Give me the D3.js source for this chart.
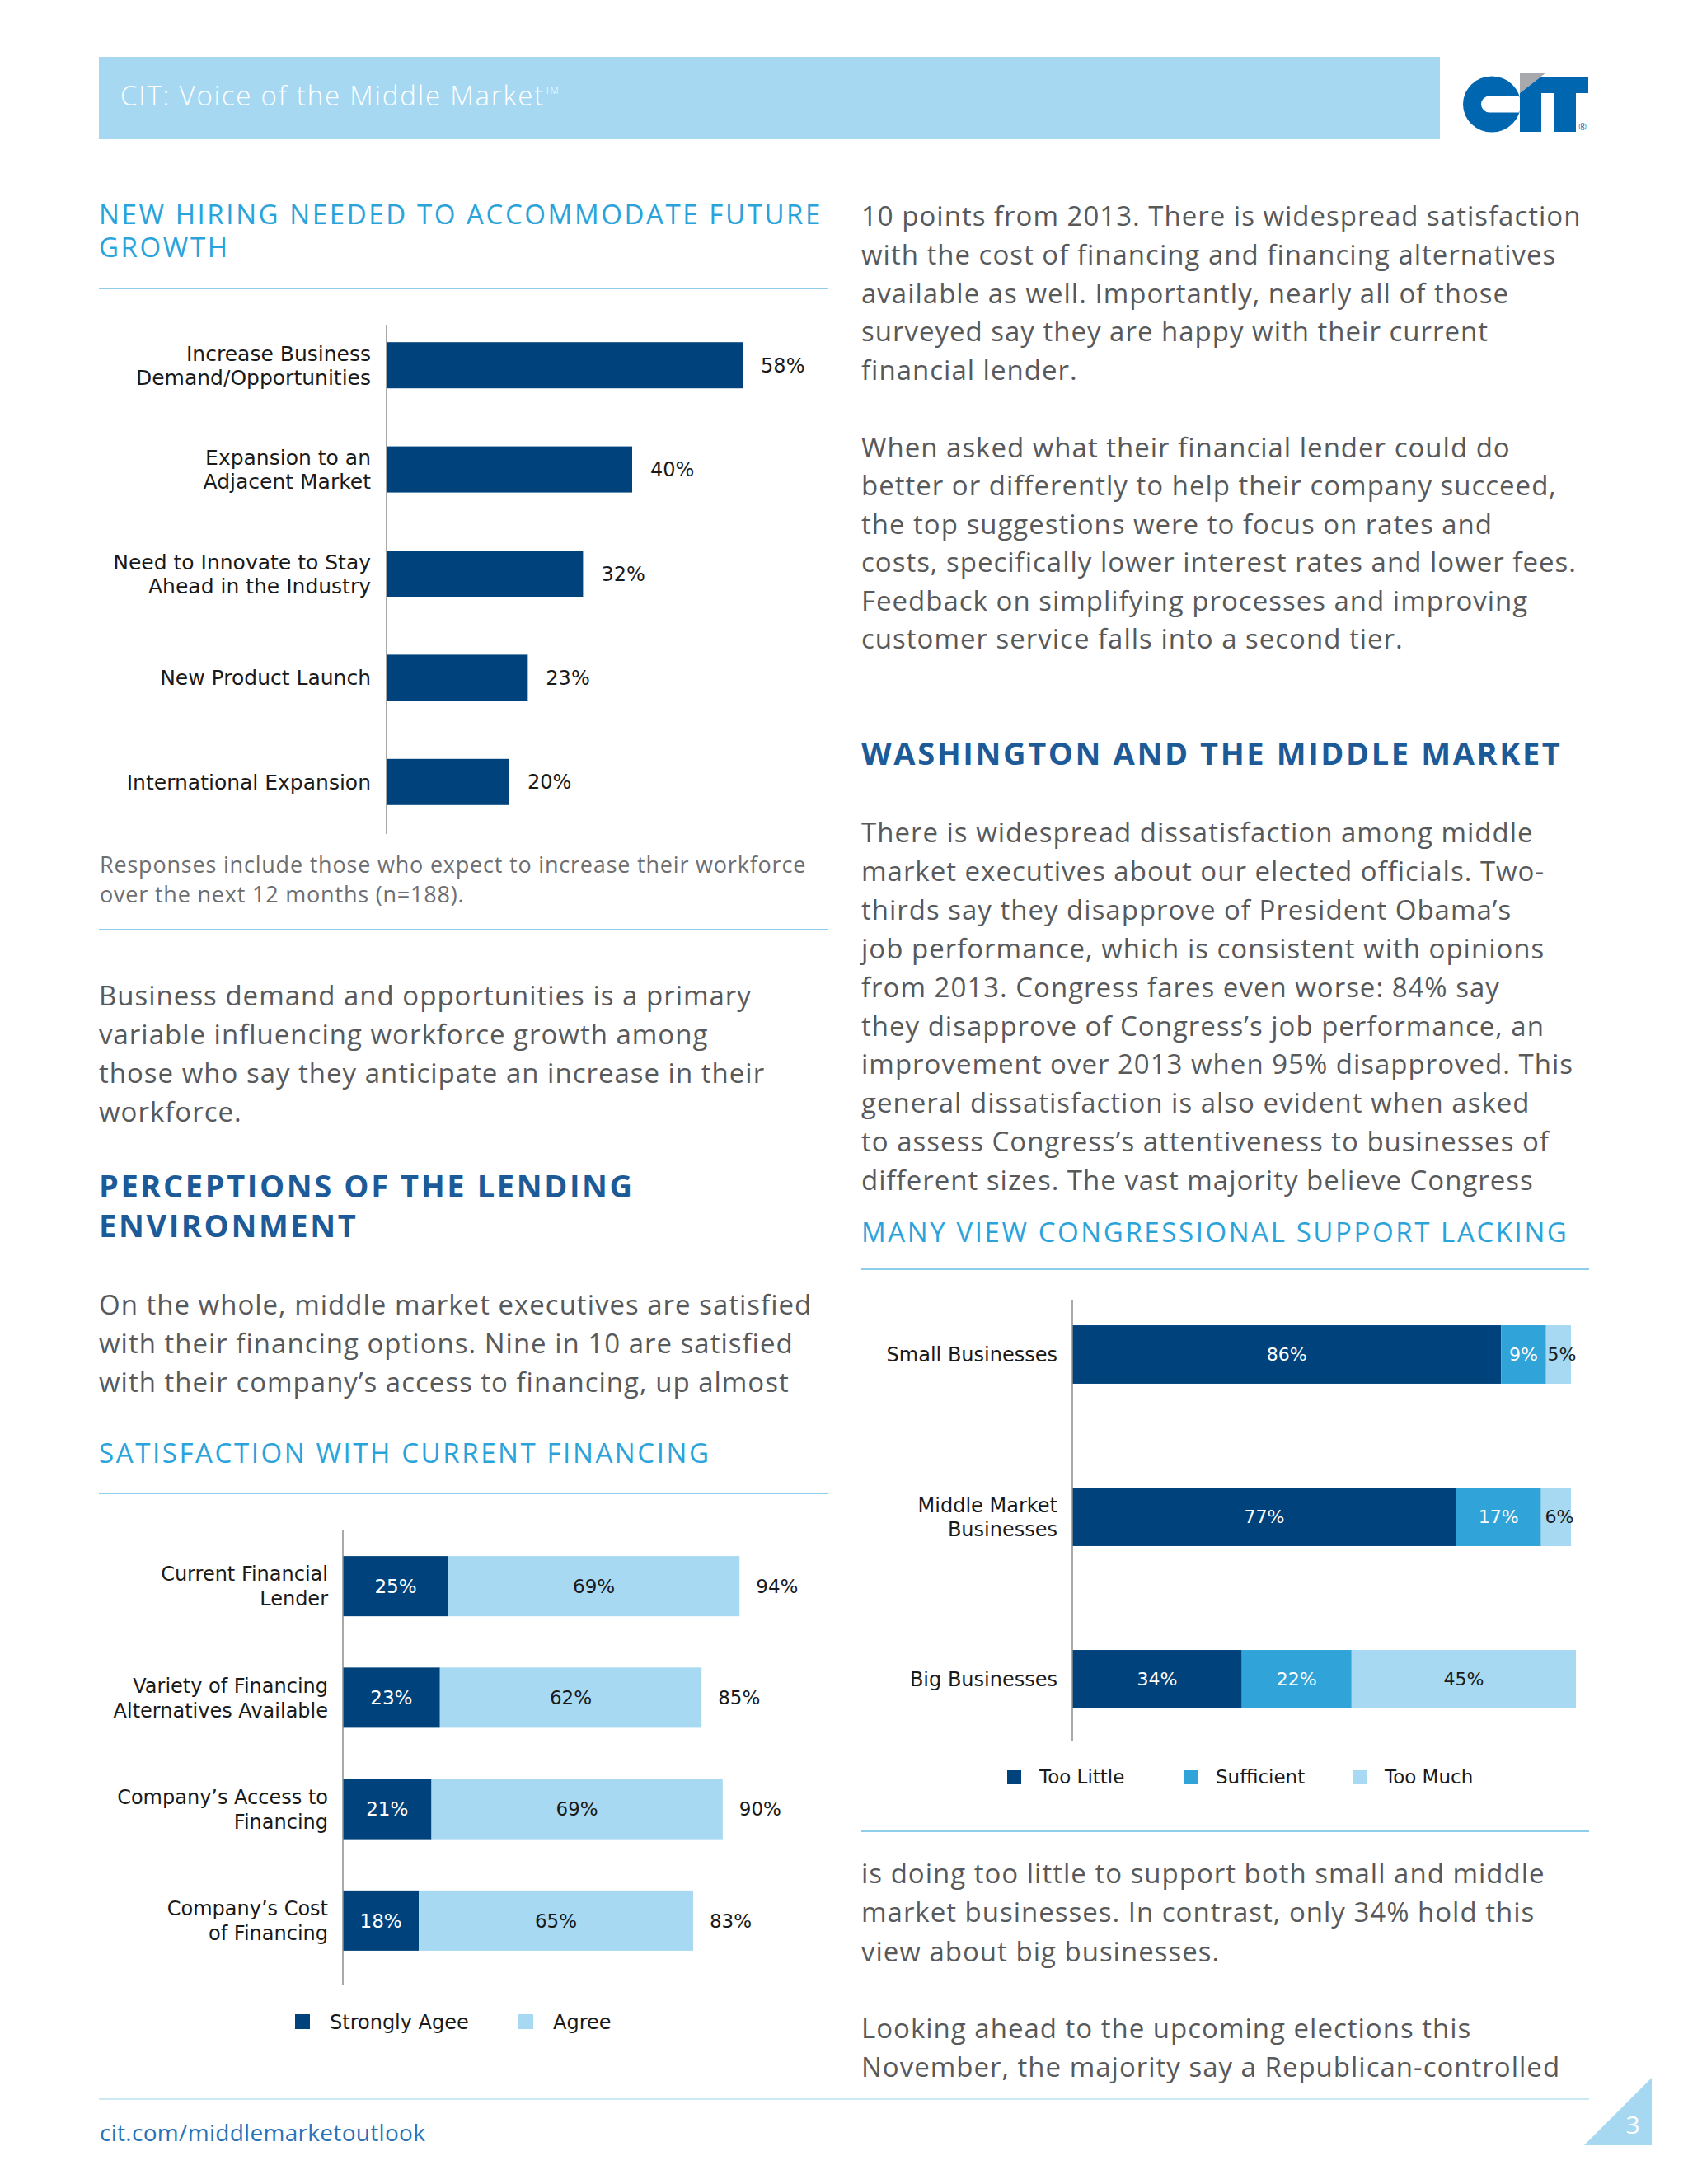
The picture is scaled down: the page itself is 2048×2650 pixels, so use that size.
<!DOCTYPE html>
<html>
<head>
<meta charset="utf-8">
<script src="https://cdn.jsdelivr.net/npm/d3@7/dist/d3.min.js"></script>
<style>
  html, body { margin: 0; padding: 0; background: #ffffff; }
  svg { display: block; }
  .body { font-family: 'Open Sans', sans-serif; font-size: 33px; letter-spacing: 1px; fill: #58595b; }
  .tlight { font-family: 'Open Sans', sans-serif; font-size: 33px; letter-spacing: 2.6px; fill: #2aa3db; }
  .heading { font-family: 'Open Sans', sans-serif; font-weight: 700; font-size: 38px; letter-spacing: 2.6px; fill: #1d5b98; }
  .note { font-family: 'Open Sans', sans-serif; font-size: 27px; letter-spacing: 0.8px; fill: #6d6e71; }
  .lbl { font-family: 'DejaVu Sans', Verdana, sans-serif; fill: #1a1a1a; }
</style>
</head>
<body>
<script>
// ---------------- DATA ----------------
const hiringCategories = [
  ["Increase Business", "Demand/Opportunities"],
  ["Expansion to an", "Adjacent Market"],
  ["Need to Innovate to Stay", "Ahead in the Industry"],
  ["New Product Launch"],
  ["International Expansion"]
];
const hiringValues = [58, 40, 32, 23, 20];

const satCategories = [
  ["Current Financial", "Lender"],
  ["Variety of Financing", "Alternatives Available"],
  ["Company\u2019s Access to", "Financing"],
  ["Company\u2019s Cost", "of Financing"]
];
const satSeries = ["Strongly Agee", "Agree"];
const stronglyAgree = [25, 23, 21, 18];
const agree = [69, 62, 69, 65];
const satTotals = [94, 85, 90, 83];

const congressCategories = [
  ["Small Businesses"],
  ["Middle Market", "Businesses"],
  ["Big Businesses"]
];
const congressSeries = ["Too Little", "Sufficient", "Too Much"];
const tooLittle = [86, 77, 34];
const sufficient = [9, 17, 22];
const tooMuch = [5, 6, 45];

// ---------------- TEXT ----------------
const headerTitle = "CIT: Voice of the Middle Market";
const title1 = ["NEW HIRING NEEDED TO ACCOMMODATE FUTURE", "GROWTH"];
const note1 = ["Responses include those who expect to increase their workforce", "over the next 12 months (n=188)."];
const para1 = ["Business demand and opportunities is a primary", "variable influencing workforce growth among",
  "those who say they anticipate an increase in their", "workforce."];
const heading1 = ["PERCEPTIONS OF THE LENDING", "ENVIRONMENT"];
const para2 = ["On the whole, middle market executives are satisfied", "with their financing options. Nine in 10 are satisfied",
  "with their company\u2019s access to financing, up almost"];
const title2 = ["SATISFACTION WITH CURRENT FINANCING"];
const paraA = ["10 points from 2013. There is widespread satisfaction", "with the cost of financing and financing alternatives",
  "available as well. Importantly, nearly all of those", "surveyed say they are happy with their current", "financial lender."];
const paraB = ["When asked what their financial lender could do", "better or differently to help their company succeed,",
  "the top suggestions were to focus on rates and", "costs, specifically lower interest rates and lower fees.",
  "Feedback on simplifying processes and improving", "customer service falls into a second tier."];
const heading2 = ["WASHINGTON AND THE MIDDLE MARKET"];
const paraC = ["There is widespread dissatisfaction among middle", "market executives about our elected officials. Two-",
  "thirds say they disapprove of President Obama\u2019s", "job performance, which is consistent with opinions",
  "from 2013. Congress fares even worse: 84% say", "they disapprove of Congress\u2019s job performance, an",
  "improvement over 2013 when 95% disapproved. This", "general dissatisfaction is also evident when asked",
  "to assess Congress\u2019s attentiveness to businesses of", "different sizes. The vast majority believe Congress"];
const title3 = ["MANY VIEW CONGRESSIONAL SUPPORT LACKING"];
const paraD = ["is doing too little to support both small and middle", "market businesses. In contrast, only 34% hold this",
  "view about big businesses."];
const paraE = ["Looking ahead to the upcoming elections this", "November, the majority say a Republican-controlled"];
const footerLink = "cit.com/middlemarketoutlook";
const pageNumber = "3";

// ---------------- COLORS ----------------
const NAVY = "#00437c", LIGHT = "#a7d9f3", MID = "#30a4d8", RULE = "#8fcdec";

const svg = d3.select("body").append("svg").attr("width", 2048).attr("height", 2650);
svg.append("rect").attr("width", 2048).attr("height", 2650).attr("fill", "#ffffff");

function textLines(arr, x, y0, dy, cls) {
  arr.forEach((t, i) => svg.append("text").attr("class", cls).attr("x", x).attr("y", y0 + i * dy).text(t));
}
function rule(x1, x2, y, color) {
  svg.append("line").attr("x1", x1).attr("x2", x2).attr("y1", y).attr("y2", y)
    .attr("stroke", color || RULE).attr("stroke-width", 2);
}

// ---------------- HEADER ----------------
svg.append("rect").attr("x", 120).attr("y", 69).attr("width", 1627).attr("height", 100).attr("fill", "#a6d8f2");
const ht = svg.append("text").attr("x", 146).attr("y", 128)
  .style("font-family", "'Open Sans', sans-serif").style("font-weight", 300).style("font-size", "33px")
  .style("letter-spacing", "1.8px").attr("fill", "#ffffff");
ht.append("tspan").text(headerTitle);
ht.append("tspan").attr("dy", -14).style("font-size", "12px").style("letter-spacing", "0px").text("TM");

// CIT logo
const logo = svg.append("g");
logo.append("path").attr("fill-rule", "evenodd").attr("fill", "#0066b0")
  .attr("d", "M1845,126.5 A35,34 0 1,1 1775,126.5 A35,34 0 1,1 1845,126.5 Z M1807,116.5 H1844 V136.5 H1807 A10,10 0 0,1 1807,116.5 Z");
logo.append("path").attr("fill", "#a7a9ac").attr("d", "M1844,88 L1876,88 L1844,113 Z");
logo.append("path").attr("fill", "#0066b0")
  .attr("d", "M1844,113 L1869.6,93 L1927,93 L1927,113 L1912,113 L1912,160 L1885,160 L1885,113 L1870,113 L1870,160 L1844,160 Z");
logo.append("text").attr("x", 1920).attr("y", 158).attr("text-anchor", "middle")
  .style("font-family", "'DejaVu Sans'").style("font-size", "12px").attr("fill", "#0066b0").text("\u00AE");

// ---------------- LEFT COLUMN TEXT ----------------
textLines(title1, 120, 272, 40, "tlight");
rule(120, 1005, 350);
textLines(note1, 121, 1059, 36, "note");
rule(120, 1005, 1128);
textLines(para1, 120, 1220, 47, "body");
textLines(heading1, 120, 1453, 48, "heading");
textLines(para2, 120, 1595, 47, "body");
textLines(title2, 120, 1775, 47, "tlight");
rule(120, 1005, 1812);

// ---------------- RIGHT COLUMN TEXT ----------------
textLines(paraA, 1045, 274, 46.8, "body");
textLines(paraB, 1045, 555, 46.4, "body");
textLines(heading2, 1045, 928, 47, "heading");
textLines(paraC, 1045, 1022, 46.9, "body");
textLines(title3, 1045, 1507, 47, "tlight");
rule(1045, 1928, 1540);
rule(1045, 1928, 2222);
textLines(paraD, 1045, 2285, 47.3, "body");
textLines(paraE, 1045, 2473, 47.3, "body");

// ---------------- FOOTER ----------------
rule(120, 1928, 2547, "#cde9f6");
svg.append("text").attr("x", 121).attr("y", 2598)
  .style("font-family", "'Open Sans', sans-serif").style("font-size", "28px").style("letter-spacing", "0.3px")
  .attr("fill", "#2a72b8").text(footerLink);
svg.append("path").attr("fill", "#a6d8f2").attr("d", "M2004,2521 L2004,2603 L1922,2603 Z");
svg.append("text").attr("x", 1981).attr("y", 2589).attr("text-anchor", "middle")
  .style("font-family", "'Open Sans', sans-serif").style("font-size", "30px").attr("fill", "#ffffff").text(pageNumber);

// ---------------- CHART 1: hiring ----------------
(function () {
  const g = svg.append("g");
  const x = d3.scaleLinear().domain([0, 100]).range([469, 469 + 745]);
  const y = d3.scaleBand().domain(d3.range(hiringValues.length)).range([380, 1012])
    .paddingInner(0.557).paddingOuter(0.2785);
  g.selectAll("rect.bar").data(hiringValues).join("rect").attr("class", "bar")
    .attr("x", x(0)).attr("y", (d, i) => y(i)).attr("width", d => x(d) - x(0)).attr("height", y.bandwidth())
    .attr("fill", NAVY);
  g.append("line").attr("x1", x(0)).attr("x2", x(0)).attr("y1", y.range()[0] + 14).attr("y2", y.range()[1])
    .attr("stroke", "#8c8c8c").attr("stroke-width", 1.5);
  g.selectAll("text.val").data(hiringValues).join("text").attr("class", "lbl")
    .attr("x", d => x(d) + 22).attr("y", (d, i) => y(i) + y.bandwidth() / 2).attr("dy", "0.36em")
    .style("font-size", "24px").text(d => d + "%");
  hiringCategories.forEach((lines, i) => {
    const cy = y(i) + y.bandwidth() / 2;
    lines.forEach((t, j) => {
      g.append("text").attr("class", "lbl").attr("text-anchor", "end").attr("x", x(0) - 19)
        .attr("y", cy + (j - (lines.length - 1) / 2) * 29).attr("dy", "0.36em").style("font-size", "25px").text(t);
    });
  });
})();

// ---------------- CHART 2: satisfaction ----------------
(function () {
  const g = svg.append("g");
  const x = d3.scaleLinear().domain([0, 100]).range([416, 928]);
  const y = d3.scaleBand().domain(d3.range(satCategories.length)).range([1857, 2398])
    .paddingInner(0.46).paddingOuter(0.23);
  const rows = stronglyAgree.map((v, i) => ({ "Strongly Agee": v, "Agree": agree[i], i }));
  const stack = d3.stack().keys(satSeries)(rows);
  const colors = [NAVY, LIGHT], txtColors = ["#ffffff", "#1a1a1a"];
  stack.forEach((layer, k) => {
    g.selectAll("rect.s" + k).data(layer).join("rect")
      .attr("x", d => x(d[0])).attr("y", d => y(d.data.i)).attr("width", d => x(d[1]) - x(d[0]))
      .attr("height", y.bandwidth()).attr("fill", colors[k]);
    g.selectAll("text.s" + k).data(layer).join("text").attr("class", "lbl")
      .attr("text-anchor", "middle").attr("x", d => (x(d[0]) + x(d[1])) / 2)
      .attr("y", d => y(d.data.i) + y.bandwidth() / 2).attr("dy", "0.36em")
      .style("font-size", "23px").style("fill", txtColors[k]).text(d => (d[1] - d[0]) + "%");
  });
  g.selectAll("text.tot").data(satTotals).join("text").attr("class", "lbl")
    .attr("x", (d, i) => x(stronglyAgree[i] + agree[i]) + 20).attr("y", (d, i) => y(i) + y.bandwidth() / 2)
    .attr("dy", "0.36em").style("font-size", "23px").text(d => d + "%");
  g.append("line").attr("x1", x(0)).attr("x2", x(0)).attr("y1", 1856).attr("y2", 2408)
    .attr("stroke", "#8c8c8c").attr("stroke-width", 1.5);
  satCategories.forEach((lines, i) => {
    const cy = y(i) + y.bandwidth() / 2;
    lines.forEach((t, j) => {
      g.append("text").attr("class", "lbl").attr("text-anchor", "end").attr("x", x(0) - 18)
        .attr("y", cy + (j - (lines.length - 1) / 2) * 30).attr("dy", "0.36em").style("font-size", "24px").text(t);
    });
  });
  const legX = [358, 629];
  satSeries.forEach((s, k) => {
    g.append("rect").attr("x", legX[k]).attr("y", 2444).attr("width", 18).attr("height", 18).attr("fill", colors[k]);
    g.append("text").attr("class", "lbl").attr("x", legX[k] + 42).attr("y", 2453).attr("dy", "0.36em")
      .style("font-size", "24px").text(s);
  });
})();

// ---------------- CHART 3: congress ----------------
(function () {
  const g = svg.append("g");
  const x = d3.scaleLinear().domain([0, 100]).range([1301, 1906]);
  const y = d3.scaleBand().domain(d3.range(congressCategories.length)).range([1545, 2136])
    .paddingInner(0.64).paddingOuter(0.32);
  const rows = tooLittle.map((v, i) => ({ "Too Little": v, "Sufficient": sufficient[i], "Too Much": tooMuch[i], i }));
  const stack = d3.stack().keys(congressSeries)(rows);
  const colors = [NAVY, MID, LIGHT], txtColors = ["#ffffff", "#ffffff", "#1a1a1a"];
  stack.forEach((layer, k) => {
    g.selectAll("rect.s" + k).data(layer).join("rect")
      .attr("x", d => x(d[0])).attr("y", d => y(d.data.i)).attr("width", d => x(d[1]) - x(d[0]))
      .attr("height", y.bandwidth()).attr("fill", colors[k]);
  });
  stack.forEach((layer, k) => {
    g.selectAll("text.s" + k).data(layer).join("text").attr("class", "lbl")
      .attr("text-anchor", "middle").attr("x", d => (x(d[0]) + x(d[1])) / 2 + (k === 2 && (d[1] - d[0]) < 10 ? 4 : 0))
      .attr("y", d => y(d.data.i) + y.bandwidth() / 2).attr("dy", "0.36em")
      .style("font-size", "22px").style("fill", txtColors[k]).text(d => (d[1] - d[0]) + "%");
  });
  g.append("line").attr("x1", x(0)).attr("x2", x(0)).attr("y1", 1577).attr("y2", 2112)
    .attr("stroke", "#8c8c8c").attr("stroke-width", 1.5);
  congressCategories.forEach((lines, i) => {
    const cy = y(i) + y.bandwidth() / 2;
    lines.forEach((t, j) => {
      g.append("text").attr("class", "lbl").attr("text-anchor", "end").attr("x", x(0) - 18)
        .attr("y", cy + (j - (lines.length - 1) / 2) * 29).attr("dy", "0.36em").style("font-size", "24px").text(t);
    });
  });
  const legX = [1222, 1436, 1641];
  congressSeries.forEach((s, k) => {
    g.append("rect").attr("x", legX[k]).attr("y", 2148).attr("width", 17).attr("height", 17).attr("fill", colors[k]);
    g.append("text").attr("class", "lbl").attr("x", legX[k] + 39).attr("y", 2156).attr("dy", "0.36em")
      .style("font-size", "23px").text(s);
  });
})();
</script>
</body>
</html>
